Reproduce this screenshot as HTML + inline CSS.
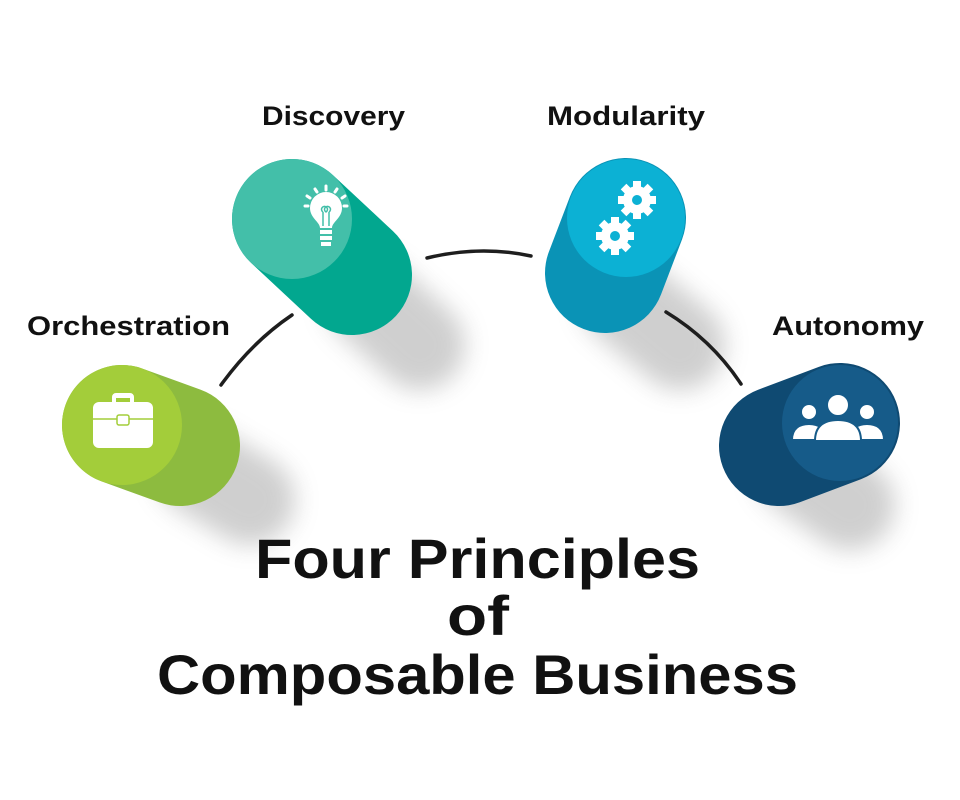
<!DOCTYPE html>
<html><head><meta charset="utf-8"><style>
html,body{margin:0;padding:0;background:#fff;width:960px;height:800px;overflow:hidden}
svg{display:block}
text{font-family:"Liberation Sans",sans-serif;font-weight:bold;fill:#111}
</style></head><body>
<svg width="960" height="800" viewBox="0 0 960 800">
<defs>
<filter id="sh" x="-50%" y="-50%" width="200%" height="200%"><feGaussianBlur stdDeviation="12"/></filter>
</defs>
<!-- shadows -->
<g filter="url(#sh)" opacity="0.35">
<line x1="200" y1="470" x2="250" y2="500" stroke="#777" stroke-width="90" stroke-linecap="round"/>
<line x1="370" y1="300" x2="420" y2="345" stroke="#777" stroke-width="90" stroke-linecap="round"/>
<line x1="625" y1="300" x2="680" y2="345" stroke="#777" stroke-width="90" stroke-linecap="round"/>
<line x1="800" y1="470" x2="850" y2="505" stroke="#777" stroke-width="90" stroke-linecap="round"/>
</g>
<!-- connectors -->
<g fill="none" stroke="#1e1e1e" stroke-width="3.5" stroke-linecap="round">
<path d="M221,385 Q252,342 292,315"/>
<path d="M427,258 Q480,245 531,256"/>
<path d="M666,312 Q712,340 741,384"/>
</g>
<!-- Orchestration -->
<line x1="122" y1="425" x2="180" y2="446" stroke="#8dbb3f" stroke-width="120" stroke-linecap="round"/>
<circle cx="122" cy="425" r="60" fill="#a3cd3a"/>
<!-- Discovery -->
<line x1="292" y1="219" x2="352" y2="275" stroke="#02a78f" stroke-width="120" stroke-linecap="round"/>
<circle cx="292" cy="219" r="60" fill="#43bfa9"/>
<!-- Modularity -->
<line x1="626" y1="218" x2="605" y2="273" stroke="#0a93b6" stroke-width="120" stroke-linecap="round"/>
<circle cx="626" cy="218" r="59" fill="#0cb1d4"/>
<!-- Autonomy -->
<line x1="840" y1="423" x2="779" y2="446" stroke="#0f4a72" stroke-width="120" stroke-linecap="round"/>
<circle cx="840" cy="423" r="58" fill="#165b89"/>

<!-- briefcase icon -->
<g fill="#fff">
<rect x="93" y="402" width="60" height="46" rx="6"/>
<path d="M112,403 v-6 a4,4 0 0 1 4,-4 h14 a4,4 0 0 1 4,4 v6 h-4 v-5 h-14 v5z"/>
</g>
<line x1="93" y1="419" x2="153" y2="419" stroke="#a3cd3a" stroke-width="1.5"/>
<rect x="117" y="415" width="12" height="10" rx="2" fill="#fff" stroke="#a3cd3a" stroke-width="1.5"/>

<!-- bulb icon -->
<g fill="#fff" stroke="#fff">
<path d="M320,228 c0,-6 -10,-10 -10,-20 a16,16 0 0 1 32,0 c0,10 -10,14 -10,20z" fill="#fff" stroke="none"/>
<rect x="320" y="230" width="12" height="4" stroke="none"/>
<rect x="320" y="236" width="12" height="4" stroke="none"/>
<rect x="321" y="242" width="10" height="4" stroke="none"/>
<g stroke-width="3" stroke-linecap="round">
<line x1="326" y1="186" x2="326" y2="190"/>
<line x1="315" y1="189" x2="317" y2="192"/>
<line x1="337" y1="189" x2="335" y2="192"/>
<line x1="307" y1="196" x2="310" y2="198"/>
<line x1="345" y1="196" x2="342" y2="198"/>
<line x1="305" y1="206" x2="308" y2="206"/>
<line x1="347" y1="206" x2="344" y2="206"/>
</g>
</g>
<path d="M323,226 v-14 M329,226 v-14 M323,212 a3,3 0 1 1 3,0 a3,3 0 1 1 3,0" fill="none" stroke="#43bfa9" stroke-width="1.5"/>

<!-- gears -->
<g fill="#fff">
<g transform="translate(637,200)">
<circle r="14"/>
<g><rect x="-4" y="-19" width="8" height="38"/><rect x="-4" y="-19" width="8" height="38" transform="rotate(45)"/><rect x="-4" y="-19" width="8" height="38" transform="rotate(90)"/><rect x="-4" y="-19" width="8" height="38" transform="rotate(135)"/></g>
<circle r="5" fill="#0cb1d4"/>
</g>
<g transform="translate(615,236)">
<circle r="14"/>
<g><rect x="-4" y="-19" width="8" height="38"/><rect x="-4" y="-19" width="8" height="38" transform="rotate(45)"/><rect x="-4" y="-19" width="8" height="38" transform="rotate(90)"/><rect x="-4" y="-19" width="8" height="38" transform="rotate(135)"/></g>
<circle r="5" fill="#0cb1d4"/>
</g>
</g>

<!-- people -->
<g fill="#fff" stroke="#165b89" stroke-width="2">
<circle cx="809" cy="412" r="8"/>
<path d="M792,440 c0,-12 8,-16 17,-16 c9,0 17,4 17,16z"/>
<circle cx="867" cy="412" r="8"/>
<path d="M850,440 c0,-12 8,-16 17,-16 c9,0 17,4 17,16z"/>
<circle cx="838" cy="405" r="11"/>
<path d="M815,441 c0,-16 10,-21 23,-21 c13,0 23,5 23,21z"/>
</g>

<!-- labels -->
<text x="262" y="125" font-size="27" textLength="143" lengthAdjust="spacingAndGlyphs">Discovery</text>
<text x="547" y="125" font-size="27" textLength="158" lengthAdjust="spacingAndGlyphs">Modularity</text>
<text x="27" y="335" font-size="27" textLength="203" lengthAdjust="spacingAndGlyphs">Orchestration</text>
<text x="772" y="335" font-size="27" textLength="152" lengthAdjust="spacingAndGlyphs">Autonomy</text>

<text x="255" y="578" font-size="56" textLength="445" lengthAdjust="spacingAndGlyphs">Four Principles</text>
<text x="447" y="635" font-size="56" textLength="62" lengthAdjust="spacingAndGlyphs">of</text>
<text x="157" y="694" font-size="56" textLength="641" lengthAdjust="spacingAndGlyphs">Composable Business</text>
</svg>
</body></html>
